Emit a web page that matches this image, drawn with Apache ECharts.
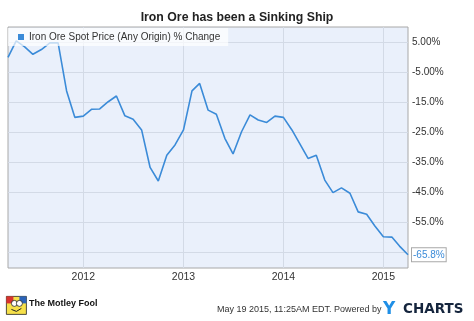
<!DOCTYPE html>
<html>
<head>
<meta charset="utf-8">
<script src="https://cdn.jsdelivr.net/npm/echarts@6/dist/echarts.min.js"></script>
<style>
html,body{margin:0;padding:0;background:#fff;}
#chart{width:474px;height:321px;}
</style>
</head>
<body>
<div id="chart"></div>
<script>
const titleText = 'Iron Ore has been a Sinking Ship';
const seriesName = 'Iron Ore Spot Price (Any Origin) % Change';
const months = [
  '2011-04-01','2011-05-01','2011-06-01','2011-07-01','2011-08-01','2011-09-01','2011-10-01','2011-11-01','2011-12-01',
  '2012-01-01','2012-02-01','2012-03-01','2012-04-01','2012-05-01','2012-06-01','2012-07-01','2012-08-01','2012-09-01','2012-10-01','2012-11-01','2012-12-01',
  '2013-01-01','2013-02-01','2013-03-01','2013-04-01','2013-05-01','2013-06-01','2013-07-01','2013-08-01','2013-09-01','2013-10-01','2013-11-01','2013-12-01',
  '2014-01-01','2014-02-01','2014-03-01','2014-04-01','2014-05-01','2014-06-01','2014-07-01','2014-08-01','2014-09-01','2014-10-01','2014-11-01','2014-12-01',
  '2015-01-01','2015-02-01','2015-03-01','2015-04-01'
];
const pctChange = [
  0, 5.5, 3.5, 1.0, 2.6, 4.8, 4.8, -11.2, -20.0,
  -19.6, -17.3, -17.2, -14.8, -12.9, -19.5, -20.6, -24.2, -36.7, -41.2, -32.6, -29.2,
  -24.2, -11.2, -8.7, -17.6, -19.0, -27.0, -32.2, -24.8, -19.2, -20.9, -21.7, -19.6,
  -20.0, -24.2, -28.7, -33.7, -32.6, -40.9, -45.1, -43.5, -45.3, -51.5, -52.3, -56.2,
  -59.8, -59.9, -62.9, -65.8
];
const xTickLabels = ['2012', '2013', '2014', '2015'];
const yGridValues = [5, -5, -15, -25, -35, -45, -55, -65];
const yTickValues = [5, -5, -15, -25, -35, -45, -55];
const yTickLabels = ['5.00%', '-5.00%', '-15.0%', '-25.0%', '-35.0%', '-45.0%', '-55.0%'];
const footerDate = 'May 19 2015, 11:25AM EDT. Powered by';

const toTime = d => Date.parse(d + 'T00:00:00Z');
const xTickTimes = xTickLabels.map(y => toTime(y + '-01-01'));

const chart = echarts.init(document.getElementById('chart'), null, {renderer: 'canvas'});
const lineColor = '#3b8bd8';
const font = 'Liberation Sans, Arial, sans-serif';

chart.setOption({
  animation: false,
  backgroundColor: '#ffffff',
  title: {
    text: titleText,
    left: 'center',
    top: 7,
    textStyle: {fontSize: 12.3, fontWeight: 'bold', color: '#222', fontFamily: font}
  },
  legend: {
    data: [seriesName],
    left: 8,
    top: 28,
    padding: [4, 8, 4, 10],
    backgroundColor: 'rgba(255,255,255,0.7)',
    icon: 'rect',
    itemWidth: 6,
    itemHeight: 6,
    textStyle: {fontSize: 10, color: '#333', fontFamily: font}
  },
  grid: {
    left: 8, right: 66, top: 27, bottom: 53,
    show: true,
    backgroundColor: '#eaf0fb',
    borderColor: '#a8a8a8',
    borderWidth: 1
  },
  xAxis: {
    type: 'value',
    min: toTime(months[0]),
    max: toTime(months[months.length - 1]),
    axisLine: {show: false},
    axisTick: {show: false, customValues: xTickTimes},
    axisLabel: {
      customValues: xTickTimes,
      margin: 4,
      fontSize: 10.5,
      color: '#333',
      fontFamily: font,
      formatter: function (v) {
        const i = xTickTimes.indexOf(v);
        return i >= 0 ? xTickLabels[i] : '';
      }
    },
    splitLine: {show: true, lineStyle: {color: '#d3dae6', width: 1}}
  },
  yAxis: {
    type: 'value',
    position: 'right',
    min: -70.2,
    max: 10.1,
    axisLine: {show: false},
    axisTick: {show: false, customValues: yGridValues},
    axisLabel: {
      customValues: yTickValues,
      margin: 4,
      fontSize: 10,
      color: '#333',
      fontFamily: font,
      formatter: function (v) {
        const i = yTickValues.indexOf(Math.round(v));
        return i >= 0 ? yTickLabels[i] : '';
      }
    },
    splitLine: {show: true, lineStyle: {color: '#d3dae6', width: 1}}
  },
  series: [{
    name: seriesName,
    type: 'line',
    data: months.map((m, i) => [toTime(m), pctChange[i]]),
    showSymbol: false,
    symbol: 'none',
    itemStyle: {color: lineColor},
    lineStyle: {color: lineColor, width: 1.6},
    endLabel: {
      show: true,
      formatter: p => p.value[1].toFixed(1) + '%',
      color: lineColor,
      fontSize: 10,
      fontFamily: font,
      backgroundColor: '#ffffff',
      borderColor: '#a8a8a8',
      borderWidth: 1,
      padding: [2, 1, 1, 1],
      distance: 4
    }
  }],
  graphic: [
    {type: 'group', left: 6, top: 296, children: [
      {type: 'rect', shape: {x: 0, y: 0, width: 20, height: 18}, style: {fill: '#f6e04a', stroke: '#222', lineWidth: 0.8}},
      {type: 'rect', shape: {x: 0, y: 0, width: 7, height: 7}, style: {fill: '#d8322f'}},
      {type: 'rect', shape: {x: 13, y: 0, width: 7, height: 7}, style: {fill: '#2b63b8'}},
      {type: 'circle', shape: {cx: 8, cy: 7, r: 3}, style: {fill: '#fff', stroke: '#222', lineWidth: 0.8}},
      {type: 'circle', shape: {cx: 13, cy: 7, r: 3}, style: {fill: '#fff', stroke: '#222', lineWidth: 0.8}},
      {type: 'polyline', shape: {points: [[5, 13], [10, 15], [15, 12]]}, style: {stroke: '#222', lineWidth: 1, fill: null}}
    ]},
    {type: 'text', left: 29, top: 299, style: {text: 'The Motley Fool', font: 'bold 9px ' + font, fill: '#111'}},
    {type: 'text', left: 217, top: 305, style: {text: footerDate, font: '9px ' + font, fill: '#333'}},
    {type: 'text', left: 383, top: 301, style: {text: 'Y', font: 'bold 17px DejaVu Sans, sans-serif', fill: '#1f8fe6'}},
    {type: 'text', left: 403, top: 302, style: {text: 'CHARTS', font: 'bold 13.5px DejaVu Sans, sans-serif', fill: '#15253d'}}
  ]
});
</script>
</body>
</html>
